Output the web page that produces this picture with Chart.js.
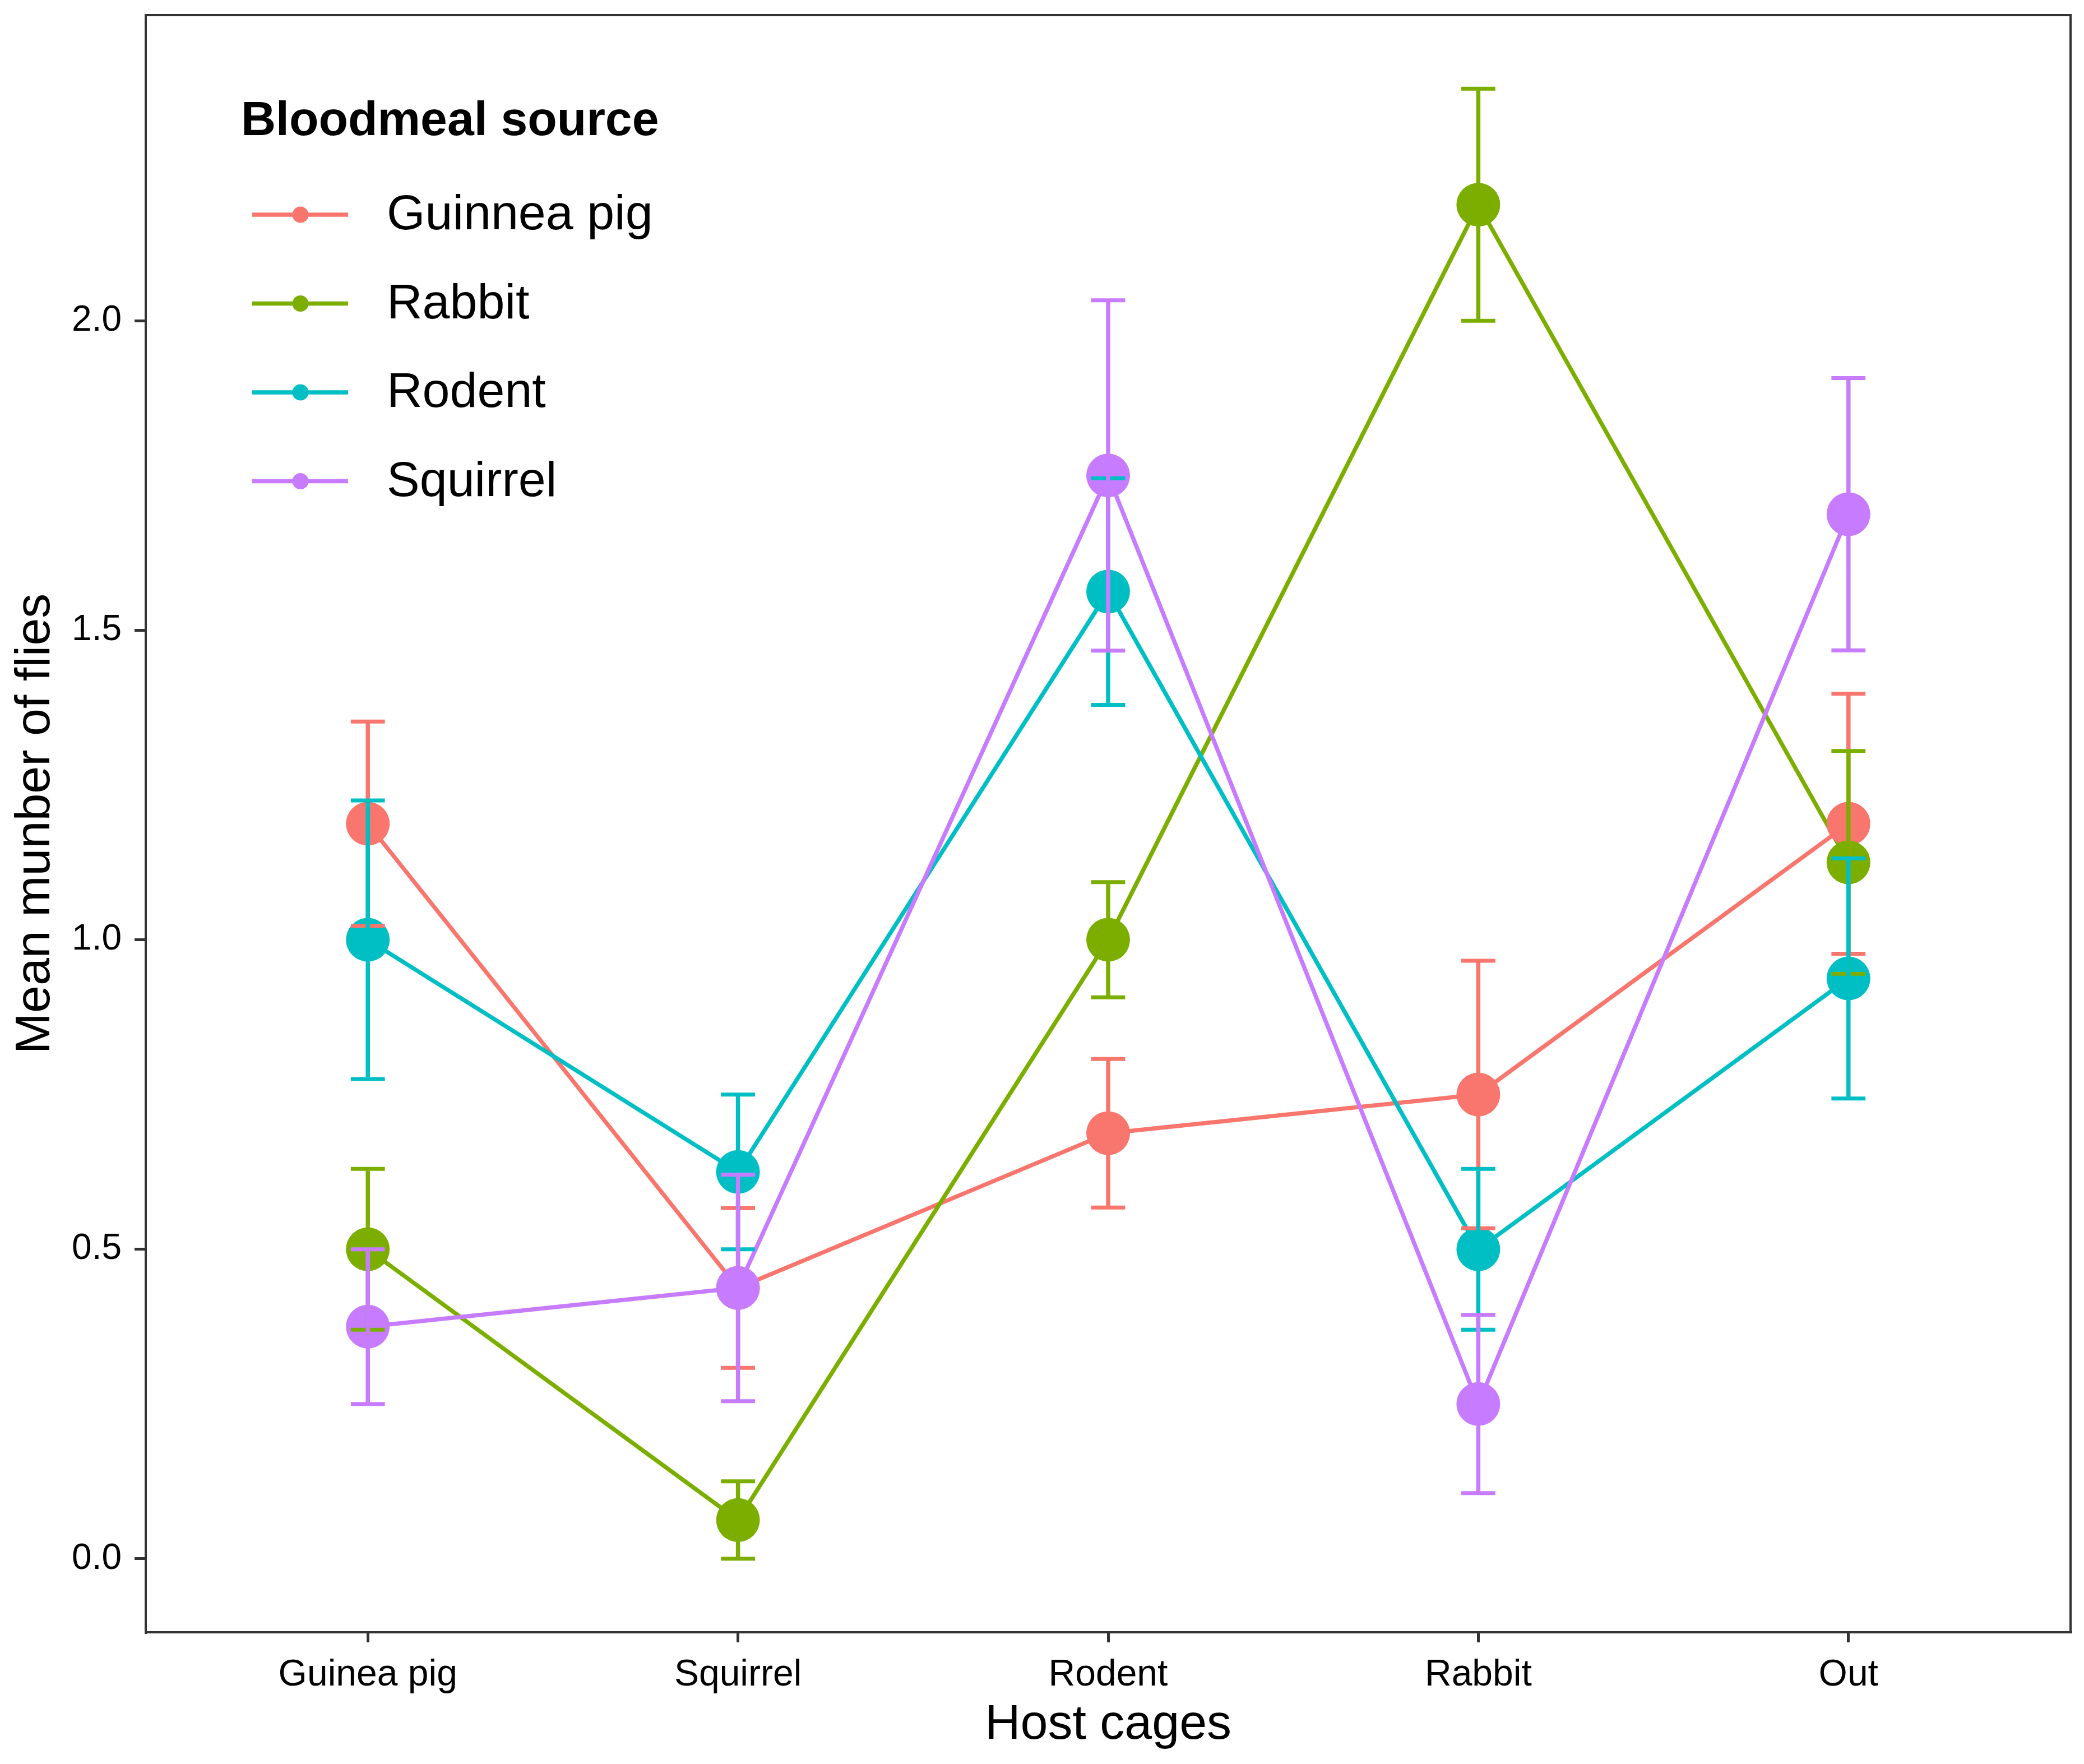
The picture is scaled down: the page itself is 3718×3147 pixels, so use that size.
<!DOCTYPE html>
<html><head><meta charset="utf-8">
<script src="https://cdn.jsdelivr.net/npm/chart.js@4.4.0/dist/chart.umd.min.js"></script>
<style>html,body{margin:0;padding:0;background:#fff;} #wrap{width:3718px;height:3147px;}</style>
</head><body><div id="wrap"><canvas id="c" width="3718" height="3147" style="width:3718px;height:3147px"></canvas></div>
<script>
const categories = ['Guinea pig', 'Squirrel', 'Rodent', 'Rabbit', 'Out'];
const seriesNames = ['Guinnea pig', 'Rabbit', 'Rodent', 'Squirrel'];
const seriesColors = ['#F8766D', '#7CAE00', '#00BFC4', '#C77CFF'];
const guinneaPigMean = [1.1875, 0.4375, 0.6875, 0.75, 1.1875];
const guinneaPigSE   = [0.165, 0.129, 0.12, 0.216, 0.21];
const rabbitMean     = [0.5, 0.0625, 1.0, 2.1875, 1.125];
const rabbitSE       = [0.13, 0.0625, 0.093, 0.1875, 0.18];
const rodentMean     = [1.0, 0.625, 1.5625, 0.5, 0.9375];
const rodentSE       = [0.225, 0.125, 0.183, 0.13, 0.194];
const squirrelMean   = [0.375, 0.4375, 1.75, 0.25, 1.6875];
const squirrelSE     = [0.125, 0.183, 0.283, 0.144, 0.22];
const yTicks = [0, 0.5, 1.0, 1.5, 2.0];
const yTitle = 'Mean munber of flies';
const xTitle = 'Host cages';
const legendTitle = 'Bloodmeal source';

const means = [guinneaPigMean, rabbitMean, rodentMean, squirrelMean];
const ses = [guinneaPigSE, rabbitSE, rodentSE, squirrelSE];
const FONT = "'Liberation Sans', Arial, sans-serif";

const datasets = [];
seriesNames.forEach((name, s) => {
  datasets.push({
    label: name + ' line',
    data: means[s].map((v, i) => ({x: i, y: v})),
    borderColor: seriesColors[s], backgroundColor: seriesColors[s],
    borderWidth: 7.5, pointRadius: 0, tension: 0, fill: false,
    order: 100 + (seriesNames.length - s)
  });
});
seriesNames.forEach((name, s) => {
  datasets.push({
    label: name,
    data: means[s].map((v, i) => ({x: i, y: v})),
    borderColor: seriesColors[s], backgroundColor: seriesColors[s],
    showLine: false, pointRadius: 39, pointBorderWidth: 0, pointStyle: 'circle',
    order: 10 + (seriesNames.length - s)
  });
});

const errorBarPlugin = {
  id: 'errorBars',
  afterDatasetsDraw(chart) {
    const {ctx, scales: {x, y}} = chart;
    ctx.save();
    ctx.lineCap = 'butt';
    seriesNames.forEach((name, s) => {
      ctx.strokeStyle = seriesColors[s];
      means[s].forEach((m, i) => {
        const px = x.getPixelForValue(i);
        const lo = y.getPixelForValue(m - ses[s][i]);
        const hi = y.getPixelForValue(m + ses[s][i]);
        const half = x.getPixelForValue(i + 0.046) - px;
        ctx.lineWidth = 7.5;
        ctx.beginPath(); ctx.moveTo(px, lo); ctx.lineTo(px, hi); ctx.stroke();
        ctx.lineWidth = 7;
        ctx.beginPath(); ctx.moveTo(px - half, lo); ctx.lineTo(px + half, lo);
        ctx.moveTo(px - half, hi); ctx.lineTo(px + half, hi); ctx.stroke();
      });
    });
    ctx.restore();
  }
};

const framePlugin = {
  id: 'frame',
  afterDraw(chart) {
    const {ctx, chartArea: a} = chart;
    ctx.save();
    ctx.strokeStyle = '#333333';
    ctx.lineWidth = 4;
    ctx.strokeRect(a.left, a.top, a.right - a.left, a.bottom - a.top);
    ctx.restore();
  }
};

const legendPlugin = {
  id: 'insideLegend',
  afterDraw(chart) {
    const {ctx} = chart;
    ctx.save();
    ctx.fillStyle = '#000';
    ctx.textBaseline = 'middle';
    ctx.textAlign = 'left';
    ctx.font = 'bold 86px ' + FONT;
    ctx.fillText(legendTitle, 430, 217);
    seriesNames.forEach((name, s) => {
      const cy = 383 + s * 158.5;
      ctx.strokeStyle = seriesColors[s];
      ctx.lineWidth = 7.5;
      ctx.beginPath(); ctx.moveTo(450, cy); ctx.lineTo(621, cy); ctx.stroke();
      ctx.fillStyle = seriesColors[s];
      ctx.beginPath(); ctx.arc(536, cy, 14.5, 0, Math.PI * 2); ctx.fill();
      ctx.fillStyle = '#000';
      ctx.font = '88px ' + FONT;
      ctx.fillText(name, 690, cy + 2);
    });
    ctx.restore();
  }
};

function zeroPad(scale) {
  scale.paddingTop = 0; scale.paddingBottom = 0;
  scale.paddingLeft = 0; scale.paddingRight = 0;
}

new Chart(document.getElementById('c'), {
  type: 'line',
  data: {datasets},
  options: {
    responsive: false, animation: false, devicePixelRatio: 1,
    layout: {autoPadding: false, padding: {left: 0, top: 27, right: 24, bottom: 0}},
    plugins: {legend: {display: false}, tooltip: {enabled: false}, title: {display: false}},
    scales: {
      x: {
        type: 'linear', min: -0.6, max: 4.6,
        afterBuildTicks(scale) { scale.ticks = categories.map((c, i) => ({value: i})); },
        afterFit(scale) { scale.height = 235; zeroPad(scale); },
        ticks: {
          autoSkip: false, maxRotation: 0, padding: 19, color: '#000',
          font: {family: FONT, size: 66, lineHeight: 1.2},
          callback: (v) => categories[v]
        },
        grid: {display: true, drawOnChartArea: false, drawTicks: true, tickLength: 18, color: '#333333', lineWidth: 5},
        border: {display: true, color: '#333333', width: 4},
        title: {display: true, text: xTitle, color: '#000', font: {family: FONT, size: 88, lineHeight: 1}, padding: {top: 0, bottom: 25}}
      },
      y: {
        type: 'linear', min: -0.11875, max: 2.49375,
        afterBuildTicks(scale) { scale.ticks = yTicks.map(v => ({value: v})); },
        afterFit(scale) { scale.width = 260; zeroPad(scale); },
        ticks: {
          padding: 23, color: '#000',
          font: {family: FONT, size: 64, lineHeight: 1.2},
          callback: (v) => Number(v).toFixed(1)
        },
        grid: {display: true, drawOnChartArea: false, drawTicks: true, tickLength: 20, color: '#333333', lineWidth: 5},
        border: {display: true, color: '#333333', width: 4},
        title: {display: true, text: yTitle, color: '#000', font: {family: FONT, size: 88, lineHeight: 1}, padding: {top: 20, bottom: 0}}
      }
    }
  },
  plugins: [errorBarPlugin, framePlugin, legendPlugin]
});
</script>
</body></html>
